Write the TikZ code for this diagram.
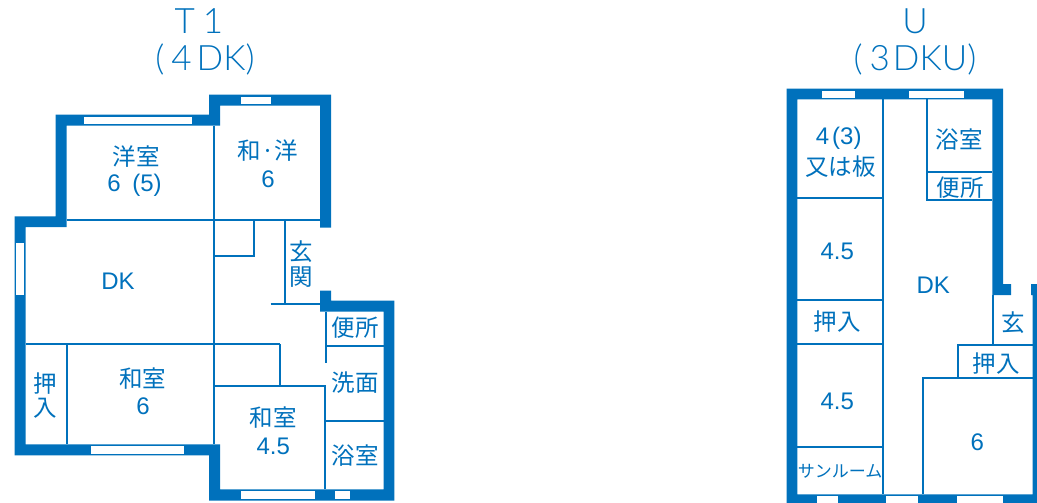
\documentclass[tikz,border=0pt]{standalone}
\usepackage{fontspec}
\setmainfont{Liberation Sans}
\newfontfamily\cjk{Noto Sans CJK JP}
\newfontfamily\ttl[UprightFont=* Light]{Lato}
\definecolor{planblue}{HTML}{0071BC}
\tikzset{
  x=1pt,y=-1pt,
  wall/.style={fill=planblue,draw=none},
  win/.style={fill=white,draw=none},
  thin wall/.style={draw=planblue,line width=1.7pt},
  lbl/.style={text=planblue,inner sep=0pt,font=\fontsize{24}{24}\selectfont},
  jp/.style={text=planblue,inner sep=0pt,font=\cjk\fontsize{23.5}{24}\selectfont},
  small jp/.style={text=planblue,inner sep=0pt,font=\cjk\fontsize{17}{17}\selectfont},
  title/.style={text=planblue,inner sep=0pt,font=\ttl\fontsize{35}{35}\selectfont}
}
\begin{document}
\begin{tikzpicture}
\path[use as bounding box] (0,0) rectangle (1037,503);
% T1 thin walls
\draw[thin wall] (66.7,219.7) -- (320,219.7);
\draw[thin wall] (214.3,125.7) -- (214.3,444.3);
\draw[thin wall] (253.7,219.7) -- (253.7,255.7) -- (214.3,255.7);
\draw[thin wall] (285,219.7) -- (285,303.7);
\draw[thin wall] (270.7,303.7) -- (320,303.7);
\draw[thin wall] (326,311.7) -- (326,363.3);
\draw[thin wall] (326,346) -- (383.7,346);
\draw[thin wall] (324.7,421) -- (383.7,421);
\draw[thin wall] (214.3,385.7) -- (324.7,385.7) -- (324.7,489.3);
\draw[thin wall] (280.3,344.3) -- (280.3,385.7);
\draw[thin wall] (25.7,344.3) -- (280.3,344.3);
\draw[thin wall] (66.7,344.3) -- (66.7,444.3);
% T1 outer wall
\fill[wall] (331,227.7) -- (331,94.7) -- (209,94.7) -- (209,114.5) -- (55.5,114.5) -- (55.5,216.3) -- (14.7,216.3) -- (14.7,455.3) -- (209,455.3) -- (209,500.7) -- (394.3,500.7) -- (394.3,300.7) -- (331,300.7) -- (331,290.7) -- (320,290.7) -- (320,311.7) -- (383.7,311.7) -- (383.7,489.3) -- (220,489.3) -- (220,444.3) -- (25.7,444.3) -- (25.7,227) -- (66.7,227) -- (66.7,125.5) -- (220,125.5) -- (220,105.7) -- (320,105.7) -- (320,227.7) -- cycle;
% T1 windows
\fill[win] (84,116.7) rectangle (192,123.7);
\fill[win] (16.3,242.7) rectangle (24,294.7);
\fill[win] (241,96.7) rectangle (270.7,104);
\fill[win] (241,491.3) rectangle (314.7,498.7);
\fill[win] (334.7,491.3) rectangle (349.7,498.7);
\fill[win] (91,446) rectangle (184.3,453.7);
% U thin walls
\draw[thin wall] (883.3,99.3) -- (883.3,494.3);
\draw[thin wall] (797.3,198) -- (883.3,198);
\draw[thin wall] (926.7,99.3) -- (926.7,200.3) -- (992.3,200.3);
\draw[thin wall] (926.7,172) -- (992.3,172);
\draw[thin wall] (797.3,299.7) -- (883.3,299.7);
\draw[thin wall] (797.3,344) -- (883.3,344);
\draw[thin wall] (797.3,447.3) -- (883.3,447.3);
\draw[thin wall] (993,295) -- (993,345);
\draw[thin wall] (1033,345) -- (958.3,345) -- (958.3,378.3);
\draw[thin wall] (1033,378.3) -- (922.7,378.3) -- (922.7,494.3);
% U outer wall
\fill[wall] (786.7,503) -- (786.7,88.7) -- (1003,88.7) -- (1003,284) -- (1011,284) -- (1011,295) -- (992.3,295) -- (992.3,99.3) -- (797.3,99.3) -- (797.3,494.3) -- (1032.7,494.3) -- (1032.7,295) -- (1031,295) -- (1031,284) -- (1037,284) -- (1037,503) -- cycle;
% U windows
\fill[win] (822,90.7) rectangle (855.3,97.7);
\fill[win] (908.7,90.7) rectangle (964,97.7);
\fill[win] (817.3,496.3) rectangle (838,503);
\fill[win] (886.3,496.3) rectangle (917.7,503);
\fill[win] (957.3,496.3) rectangle (1003.3,503);
% titles
\node[title] (t1a) at (199,21) {T\hspace{8pt}1};
\node[title] (t1b) at (205,59) {(\hspace{7pt}4\hspace{5pt}DK)};
\node[title] (ua) at (915,21) {U};
\node[title] (ub) at (915,59) {(\hspace{7pt}3\hspace{3pt}DKU)};
% T1 labels
\node[jp] (a1) at (136,157) {洋室};
\node[lbl] (a2) at (134.5,185) {6\hspace{5pt} (5)};
\node[lbl] (a3) at (118,281) {DK};
\node[jp] (a4) at (268,151) {和·洋};
\node[lbl] (a5) at (268,179) {6};
\node[jp] (a6) at (301,251.7) {玄};
\node[jp] (a7) at (301,276.7) {関};
\node[jp] (a8) at (45.7,384) {押};
\node[jp] (a9) at (45.7,408) {入};
\node[jp] (a10) at (142.7,378.7) {和室};
\node[lbl] (a11) at (143,406.7) {6};
\node[jp] (a12) at (355.3,328) {便所};
\node[jp] (a13) at (355.3,382.5) {洗面};
\node[jp] (a14) at (355.3,455.5) {浴室};
\node[jp] (a15) at (273.3,418) {和室};
\node[lbl] (a16) at (273.3,446.7) {4.5};
% U labels
\node[lbl] (b1) at (838.7,138) {4\hspace{3pt}(3)};
\node[jp] (b2) at (840.3,166.3) {又は板};
\node[lbl] (b3) at (837.3,251.7) {4.5};
\node[jp] (b4) at (959.3,139.7) {浴室};
\node[jp] (b5) at (960,187.5) {便所};
\node[lbl] (b6) at (933.3,285) {DK};
\node[jp] (b7) at (837,322) {押入};
\node[lbl] (b8) at (837.3,401) {4.5};
\node[small jp] (b9) at (840,471) {サンルーム};
\node[jp] (b10) at (1013,323) {玄};
\node[jp] (b11) at (996,363.8) {押入};
\node[lbl] (b12) at (977.3,442) {6};
\end{tikzpicture}
\end{document}
